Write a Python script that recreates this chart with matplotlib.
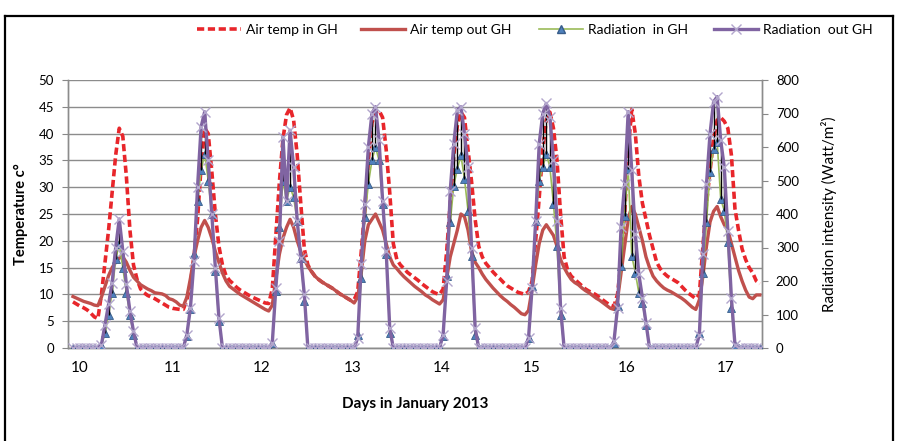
import numpy as np
import matplotlib.pyplot as plt
from matplotlib.lines import Line2D

plt.rcParams['font.family'] = ['Lato', 'DejaVu Sans']

# hourly readings, 10-17 January 2013 (index = hour from start)
air_in = [
    8.6, 8.2, 7.8, 7.5, 7.1, 6.5, 5.8, 5.5, 10, 16, 22, 29, 36, 41, 39.5, 32, 22, 15.5, 12.8, 11, 10.3, 9.8, 9.5, 9.2,
    8.8, 8.4, 8, 7.6, 7.4, 7.3, 7.2, 7.2, 9, 12, 17, 24, 34, 41, 40, 33, 25, 19, 15.5, 13.5, 12.6, 12, 11.3, 10.8,
    10.4, 10, 9.6, 9.3, 9, 8.7, 8.4, 8.3, 11, 21, 31, 39, 43.5, 44.8, 42.5, 36, 27, 18.5, 15.5, 14.3, 13.4, 12.8, 12.3, 11.9,
    11.5, 11.1, 10.6, 10.1, 9.7, 9.3, 8.9, 9, 10.5, 18, 26, 35, 42, 44, 44.3, 43, 37, 29, 19.5, 16.5, 15.5, 14.8, 14.1, 13.6,
    13.1, 12.6, 12, 11.5, 11, 10.5, 10.2, 10, 11, 18, 27, 36, 41.5, 44, 43, 37, 31, 24, 19, 17, 15.8, 15, 14.2, 13.5,
    12.9, 12.2, 11.6, 11.2, 10.8, 10.4, 10.2, 10, 10.5, 12.5, 20, 28, 37, 42.5, 44, 41, 35, 25, 17, 14.5, 13.4, 12.8, 12.2, 11.6,
    11, 10.6, 10.3, 9.9, 9.4, 8.9, 8.4, 8, 7.8, 10, 16, 25, 37, 44.5, 40, 32, 27, 24, 21, 18.5, 16, 14.8, 14, 13.4,
    13, 12.6, 12.2, 11.5, 10.8, 10.2, 9.7, 9.2, 10, 19, 27, 33, 39, 42.5, 43, 42.3, 41, 36, 26, 22, 18.5, 16.5, 15, 14,
    12.5, 12,
]
air_out = [
    9.6, 9.3, 9, 8.7, 8.5, 8.3, 8, 7.9, 9.5, 11.5, 13.5, 15, 16, 16.8, 17, 16, 14.5, 13.2, 12.5, 11.8, 11.4, 11, 10.7, 10.3,
    10.2, 10.1, 9.8, 9.2, 9, 8.6, 8, 7.8, 9.5, 13, 17, 20, 22.5, 23.8, 22.5, 20.5, 18, 16, 14, 12.5, 11.5, 11, 10.5, 10,
    9.6, 9.2, 8.8, 8.4, 8, 7.6, 7.2, 6.9, 8, 13, 17.5, 20.5, 22.5, 24, 22.5, 20, 18, 16.5, 15.2, 14.3, 13.4, 12.8, 12.3, 11.9,
    11.5, 11.1, 10.6, 10.1, 9.7, 9.3, 8.9, 8.4, 9.5, 14, 20, 23, 24, 25, 23.5, 22, 19.5, 17, 15.5, 14.8, 14, 13.3, 12.7, 12.1,
    11.5, 11, 10.5, 9.9, 9.5, 9, 8.6, 8.2, 9, 13, 17, 19.5, 22, 25, 24.5, 22, 18, 16, 15, 13.8, 12.8, 12, 11.2, 10.5,
    9.8, 9.2, 8.7, 8.1, 7.6, 7, 6.4, 6.2, 7, 11, 15.5, 19.5, 22, 23, 22, 21, 19, 16.5, 15, 13.8, 12.8, 12.2, 11.8, 11.2,
    10.7, 10.3, 9.8, 9.3, 8.9, 8.4, 7.9, 7.4, 7.2, 9, 14, 19, 24, 26.4, 25, 22.5, 20, 17, 15, 13.4, 12.5, 11.8, 11.2, 10.8,
    10.5, 10.1, 9.7, 9.3, 8.8, 8.2, 7.6, 7.2, 9, 13.4, 19, 23.5, 25.5, 26.4, 24.5, 23, 22, 19.5, 17, 14.5, 12.5, 10.8, 9.5, 9.2,
    9.9, 9.9,
]
rad_in = [
    0, 0, 0, 0, 0, 0, 0, 0, 8, 45, 100, 165, 265, 310, 240, 165, 100, 40, 0, 0, 0, 0, 0, 0,
    0, 0, 0, 0, 0, 0, 0, 0, 35, 115, 280, 440, 530, 580, 500, 400, 230, 80, 0, 0, 0, 0, 0, 0,
    0, 0, 0, 0, 0, 0, 0, 0, 15, 170, 360, 500, 440, 480, 450, 380, 270, 140, 0, 0, 0, 0, 0, 0,
    0, 0, 0, 0, 0, 0, 0, 0, 40, 210, 390, 490, 560, 600, 560, 430, 280, 45, 0, 0, 0, 0, 0, 0,
    0, 0, 0, 0, 0, 0, 0, 0, 35, 215, 375, 485, 535, 575, 505, 410, 275, 40, 0, 0, 0, 0, 0, 0,
    0, 0, 0, 0, 0, 0, 0, 0, 30, 185, 380, 500, 540, 580, 540, 430, 305, 100, 0, 0, 0, 0, 0, 0,
    0, 0, 0, 0, 0, 0, 0, 0, 15, 125, 245, 395, 535, 275, 225, 165, 135, 70, 0, 0, 0, 0, 0, 0,
    0, 0, 0, 0, 0, 0, 0, 0, 45, 225, 375, 525, 595, 615, 445, 410, 315, 120, 10, 0, 0, 0, 0, 0,
    0, 0,
]
rad_out = [
    0, 0, 0, 0, 0, 0, 0, 0, 10, 70, 130, 195, 300, 385, 290, 190, 110, 50, 0, 0, 0, 0, 0, 0,
    0, 0, 0, 0, 0, 0, 0, 0, 40, 120, 260, 480, 660, 705, 560, 400, 240, 90, 0, 0, 0, 0, 0, 0,
    0, 0, 0, 0, 0, 0, 0, 0, 15, 180, 320, 630, 440, 650, 540, 380, 270, 160, 0, 0, 0, 0, 0, 0,
    0, 0, 0, 0, 0, 0, 0, 0, 30, 250, 430, 600, 700, 720, 620, 440, 290, 60, 0, 0, 0, 0, 0, 0,
    0, 0, 0, 0, 0, 0, 0, 0, 40, 200, 470, 610, 710, 720, 640, 540, 300, 60, 0, 0, 0, 0, 0, 0,
    0, 0, 0, 0, 0, 0, 0, 0, 30, 180, 380, 610, 700, 730, 690, 560, 380, 120, 0, 0, 0, 0, 0, 0,
    0, 0, 0, 0, 0, 0, 0, 0, 20, 120, 360, 490, 705, 530, 340, 220, 150, 75, 0, 0, 0, 0, 0, 0,
    0, 0, 0, 0, 0, 0, 0, 0, 40, 280, 490, 640, 735, 750, 620, 540, 350, 150, 10, 0, 0, 0, 0, 0,
    0, 0,
]
day_labels = ['10', '11', '12', '13', '14', '15', '16', '17']
day_label_pos = [2, 28, 53, 78.5, 103.5, 129, 155.5, 183.5]

hours = np.arange(len(air_in))

c_red = '#e8262b'
c_brown = '#c0504d'
c_green = '#9bbb59'
c_purple = '#8064a2'

fig = plt.figure(figsize=(8.98, 4.41), dpi=100)
ax = fig.add_axes([68 / 898, 1 - 348 / 441, (762 - 68) / 898, (348 - 80) / 441])
ax2 = ax.twinx()

ax.plot(hours, air_in, color=c_red, lw=2.6, dashes=(2.0, 1.0), zorder=3)
ax.plot(hours, air_out, color=c_brown, lw=2.4, zorder=4)

ax2.plot(hours, rad_in, color=c_green, lw=1.2, marker='^', ms=6,
         mfc='#4f81bd', mec='#385d8a', mew=0.6, zorder=3)
ax2.vlines(hours, rad_in, rad_out, color='black', lw=1, zorder=4)
ax2.plot(hours, rad_out, color=c_purple, lw=2.4, marker='x', ms=6.5,
         mec='#b2a6cc', mew=1.0, zorder=5)

ax.set_xlim(-1.4, 193.6)
ax.set_ylim(0, 50)
ax2.set_ylim(0, 800)
ax.set_yticks(np.arange(0, 51, 5))
ax2.set_yticks(np.arange(0, 801, 100))
ax.set_xticks(day_label_pos)
ax.set_xticklabels(day_labels, fontsize=11)
ax.tick_params(axis='x', length=0, pad=9)
ax.tick_params(axis='y', labelsize=9.5, length=4, color='#888888', pad=6)
ax2.tick_params(axis='y', labelsize=9.5, length=4, color='#888888', pad=6)

ax.grid(axis='y', color='#8c8c8c', lw=1)
ax.set_axisbelow(True)
for a in (ax, ax2):
    a.spines['top'].set_visible(False)
    for s in ('left', 'right', 'bottom'):
        a.spines[s].set_color('#8c8c8c')
        a.spines[s].set_linewidth(1)

ax.set_xlabel('Days in January 2013', fontsize=11, fontweight='bold', labelpad=16)
ax.set_ylabel('Temperature c°', fontsize=10.5, fontweight='bold', labelpad=8)
ax2.set_ylabel('Radiation intensity (Watt/m²)', fontsize=11, labelpad=16)

# legend entries placed one by one along the top, as in the original
handles = [
    Line2D([], [], color=c_red, lw=2.6, dashes=(2.0, 1.0)),
    Line2D([], [], color=c_brown, lw=2.4),
    Line2D([], [], color=c_green, lw=1.2, marker='^', ms=6, mfc='#4f81bd', mec='#385d8a'),
    Line2D([], [], color=c_purple, lw=2.4, marker='x', ms=6.5, mec='#b2a6cc'),
]
labels = ['Air temp in GH', 'Air temp out GH', 'Radiation  in GH', 'Radiation  out GH']
starts = [197, 361, 539, 714]
for h, lab, x0 in zip(handles, labels, starts):
    fig.legend([h], [lab], loc='center left', bbox_to_anchor=(x0 / 898, 1 - 30 / 441),
               frameon=False, fontsize=10, handlelength=3.2, handletextpad=0.3,
               borderpad=0, borderaxespad=0)

# black frame round the figure (bottom edge falls outside the picture)
fl, fr, ft = 5 / 898, 893 / 898, 1 - 16 / 441
fig.add_artist(Line2D([fl, fl], [0, ft], color='black', lw=1.6, transform=fig.transFigure))
fig.add_artist(Line2D([fl, fr], [ft, ft], color='black', lw=1.6, transform=fig.transFigure))
fig.add_artist(Line2D([fr, fr], [0, ft], color='black', lw=1.6, transform=fig.transFigure))

fig.savefig('out.png', dpi=100)
